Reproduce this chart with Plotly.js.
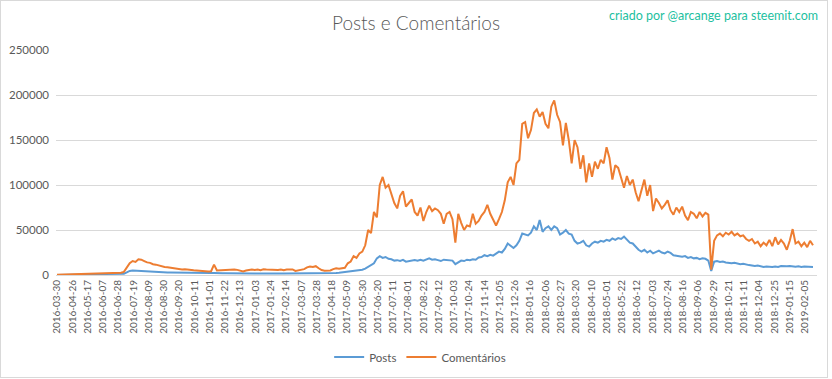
<!DOCTYPE html>
<html>
<head>
<meta charset="utf-8">
<script src="https://cdn.plot.ly/plotly-3.0.1.min.js"></script>
<style>
  html, body { margin: 0; padding: 0; background: #fff; }
  #wrap { position: relative; width: 832px; height: 379px; }
  #chart { width: 832px; height: 379px; }
  #frame { position: absolute; left: 0; top: 0; width: 826px; height: 376px; border: 1px solid #d9d9d9; pointer-events: none; }
</style>
</head>
<body>
<div id="wrap"><div id="chart"></div><div id="frame"></div></div>
<script>
// Category labels shown every 21 days on the x axis
const tickLabels = [
  "2016-03-30","2016-04-26","2016-05-17","2016-06-07","2016-06-28","2016-07-19","2016-08-09","2016-08-30",
  "2016-09-20","2016-10-11","2016-11-01","2016-11-22","2016-12-13","2017-01-03","2017-01-24","2017-02-14",
  "2017-03-07","2017-03-28","2017-04-18","2017-05-09","2017-05-30","2017-06-20","2017-07-11","2017-08-01",
  "2017-08-22","2017-09-12","2017-10-03","2017-10-24","2017-11-14","2017-12-05","2017-12-26","2018-01-16",
  "2018-02-06","2018-02-27","2018-03-20","2018-04-10","2018-05-01","2018-05-22","2018-06-12","2018-07-03",
  "2018-07-24","2018-08-16","2018-09-06","2018-09-29","2018-10-21","2018-11-11","2018-12-04","2018-12-25",
  "2019-01-15","2019-02-05"
];
const LABEL_EVERY = 21;   // categories between labels
const SAMPLE_EVERY = 4;   // categories between sampled values below

// Posts (sampled every 4 days, starting 2016-03-30)
const posts = [
  100,150,200,250,300,350,400,400,450,500,500,550,550,600,600,650,650,700,700,750,800,900,1000,
  1500,3000,4500,5000,4800,4200,4000,3800,3500,3400,3300,3200,3000,3000,2900,2800,2800,2700,2700,2600,2600,2500,2500,
  2500,2400,2400,2300,2200,2200,2100,2100,2300,2000,2000,1900,2000,1900,1900,1800,1900,1800,1800,1700,
  1800,1900,1800,1800,1700,1800,1900,1800,1800,1900,1800,1700,1800,1800,1900,1800,1700,1800,1900,1900,
  2000,2100,2000,2100,2000,
  1900,1800,1900,2000,2100,2300,2600,3000,3500,3700,4200,4800,5000,5500,5800,7000,9300,11000,13000,18500,
  21000,19000,20000,18000,17500,16000,16500,15500,16800,14800,15500,16500,16700,15800,17000,16000,17500,18500,
  17000,17500,16500,15500,17000,16500,16700,
  16000,12000,14500,16000,15500,17000,16500,17500,17000,19500,20000,22000,21000,22500,21500,24000,26000,25000,
  29000,35000,32000,30000,33000,38000,46000,45000,44000,47000,54000,50000,61000,48000,52000,54000,50000,54000,
  52000,45000,47000,50000,46000,45000,38000,35000,
  36000,38000,33000,31500,35000,37000,36000,38000,37000,39000,38000,40700,39000,41000,40000,42600,39000,36000,
  35000,31000,28000,26000,28000,25000,27000,24000,25500,27000,25000,24000,26000,24500,22000,21500,20500,20400,
  21000,19000,20000,18500,19000,17500,18500,18000,16000,
  4500,14800,15500,14500,15000,14000,13500,13000,13500,12500,12000,12500,11500,11000,10500,10000,10500,9500,
  9000,9500,9000,8800,9500,9000,10000,9500,9800,10000,9500,9200,9600,9000,9400,9200,9300,9000
];

// Comentários (sampled every 4 days, starting 2016-03-30)
const comentarios = [
  200,300,400,500,600,800,900,1000,1100,1200,1300,1300,1400,1500,1500,1600,1700,1800,1900,2000,2200,2400,2600,
  3500,8000,13000,15500,14500,17500,17000,15500,14000,13500,12000,11500,10500,10000,9000,8500,8000,7500,7000,6500,6000,6500,5800,
  5500,5200,5000,4800,3800,3700,3900,4200,11500,5000,5200,5600,5400,5800,5500,6000,5700,5200,4000,5000,
  5800,6200,5600,6000,5400,6300,6000,5800,6400,5900,5500,6000,5200,6100,5800,6200,4500,5200,5800,6500,
  8500,9500,9000,9800,7500,
  5500,4800,4600,5000,6500,7400,7000,7800,8000,13000,15000,21000,19000,24000,26000,33000,50000,46500,70000,64000,
  100000,109000,97000,100000,90000,80000,74000,88000,93000,76000,80000,84000,70000,66000,75000,60000,70000,77000,
  71000,74000,72000,68000,57000,68000,70000,
  62000,36000,68000,58000,50000,55000,54000,68000,57000,60000,66000,70000,78000,68000,62000,55000,62000,70000,
  83000,103000,109000,100000,124000,128000,168000,170000,152000,161000,180000,184000,176000,181000,168000,163000,
  187000,194000,178000,170000,144000,169000,150000,124000,150000,142000,
  118000,133000,103000,124000,109000,126000,118000,128000,124000,142000,130000,106000,122000,119000,108000,97000,
  110000,100000,106000,92000,82000,94000,106000,88000,100000,71000,85000,80000,74000,78000,83000,72000,67000,
  75000,70000,76000,66000,61000,70000,68000,63000,70000,65000,69000,67000,
  6000,38000,44000,46000,43000,47000,45000,48000,44000,46000,43000,44000,40000,38000,40000,35000,37000,32000,
  36000,33000,39000,32000,42000,34000,39000,35000,28000,38000,51000,35000,37000,32000,36000,31000,38000,33000
];

const xs = comentarios.map((_, i) => i * SAMPLE_EVERY);
const tickvals = tickLabels.map((_, i) => i * LABEL_EVERY);

const FONT = "Lato, 'Open Sans', sans-serif";
const traces = [
  { x: xs, y: posts, type: "scatter", mode: "lines", name: "Posts",
    line: { color: "#5B9BD5", width: 2 } },
  { x: xs, y: comentarios, type: "scatter", mode: "lines", name: "Comentários",
    line: { color: "#ED7D31", width: 2 } }
];

const layout = {
  width: 832, height: 379,
  margin: { l: 56, r: 15, t: 50, b: 104 },
  paper_bgcolor: "#ffffff", plot_bgcolor: "#ffffff",
  font: { family: FONT, color: "#595959", size: 11 },
  title: { text: "Posts e Comentários", x: 0.5, xref: "container", xanchor: "center",
           y: 0.938, yref: "container", yanchor: "middle",
           font: { family: FONT, size: 19, weight: 300, color: "#595959" } },
  showlegend: true,
  legend: { orientation: "h", x: 0.505, xref: "container", xanchor: "center",
            y: 0.058, yref: "container", yanchor: "middle",
            font: { family: FONT, size: 11.5, color: "#595959" }, itemwidth: 30 },
  xaxis: {
    type: "linear", range: [-1.4, 1045.5],
    tickmode: "array", tickvals: tickvals, ticktext: tickLabels,
    tickangle: -90, tickfont: { family: FONT, size: 10, color: "#595959" },
    showgrid: false, zeroline: false, showline: true, linecolor: "#d9d9d9", linewidth: 1,
    ticks: "", automargin: false, fixedrange: true
  },
  yaxis: {
    range: [0, 250000], tickmode: "array",
    tickvals: [0, 50000, 100000, 150000, 200000, 250000],
    ticktext: ["0", "50000", "100000", "150000", "200000", "250000"],
    tickfont: { family: FONT, size: 11.5, color: "#595959" },
    showgrid: true, gridcolor: "#d9d9d9", gridwidth: 1, zeroline: false,
    showline: false, ticks: "", ticklabelstandoff: 6, automargin: false, fixedrange: true
  },
  annotations: [{
    text: "criado por @arcange para steemit.com", xref: "paper", yref: "paper",
    x: 1.004, y: 1.155, xanchor: "right", yanchor: "middle", showarrow: false,
    font: { family: FONT, size: 12.5, color: "#1DBF9F" }
  }]
};

Plotly.newPlot("chart", traces, layout, { displayModeBar: false, staticPlot: true });
</script>
</body>
</html>
